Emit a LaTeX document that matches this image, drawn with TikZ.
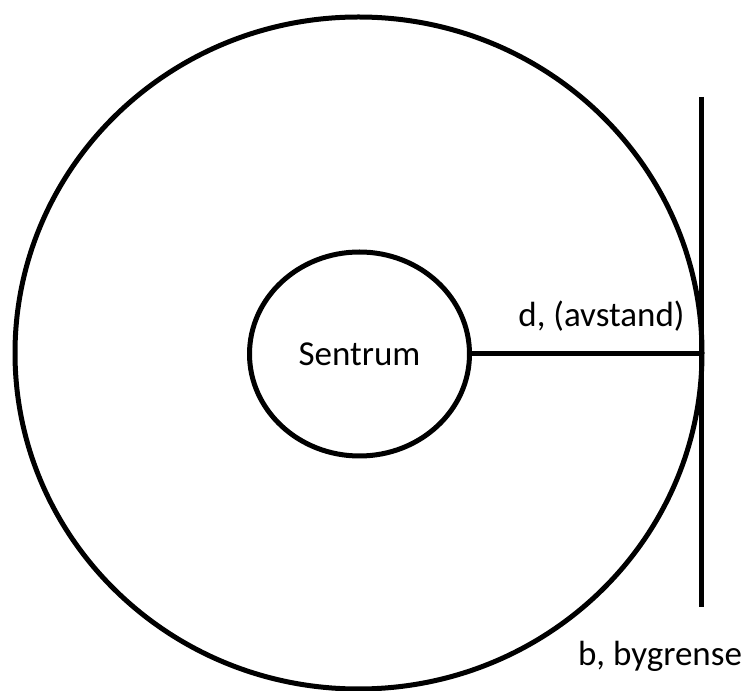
\documentclass[tikz,border=0pt]{standalone}
\usepackage{fontspec}
\setmainfont{Carlito}
\usetikzlibrary{shapes.geometric,positioning}

\begin{document}
\begin{tikzpicture}[
    x=1pt, y=1pt,
    ring/.style={draw, ellipse, line width=5pt, inner sep=0pt},
    lbl/.style={font=\fontsize{35}{42}\selectfont, inner sep=0pt}
]
\useasboundingbox (0,0) rectangle (745,691);

\node[ring, minimum width=687pt, minimum height=672pt] (by) at (358.5,338) {};
\node[ring, lbl, minimum width=220pt, minimum height=204pt] (sentrum) at (359.5,337) {Sentrum};

\coordinate (grensetopp) at (701,594);
\coordinate (grensebunn) at (701,84);

\draw[line width=5pt] (grensetopp) -- (grensebunn);
\draw[line width=5pt] (sentrum.east) -- (sentrum.east -| grensetopp);

\node[lbl, anchor=base] (avstand) at (601.5,364) {d, (avstand)};
\node[lbl, anchor=base] (bygrense) at (660,25) {b, bygrense};
\end{tikzpicture}
\end{document}
